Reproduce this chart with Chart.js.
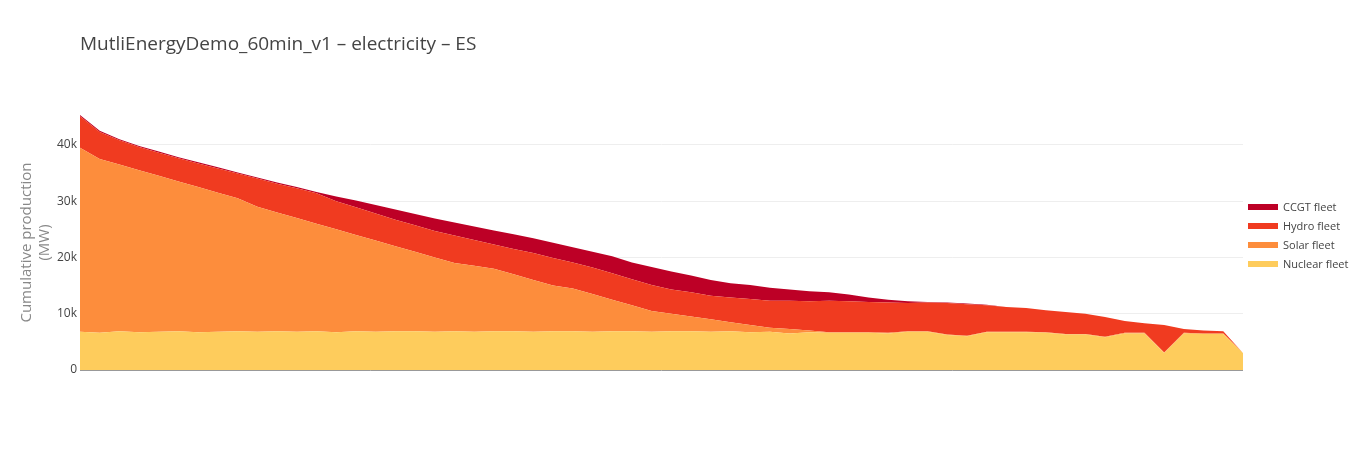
<!DOCTYPE html>
<html><head><meta charset="utf-8">
<script src="https://cdn.jsdelivr.net/npm/chart.js@4"></script>
<style>
body{margin:0;background:#fff;font-family:"Open Sans",sans-serif;}
#wrap{position:relative;width:1369px;height:450px;}
#title{position:absolute;left:80px;top:30px;font-size:19px;color:#444;}
#legend{position:absolute;left:1248px;top:197px;font-size:11px;color:#444;}
.li{height:19px;display:flex;align-items:center;}
.sw{width:30px;height:6px;margin-right:5px;}
</style></head><body>
<div id="wrap"><canvas id="c" width="1369" height="450"></canvas>
<div id="title">MutliEnergyDemo_60min_v1 – electricity – ES</div>
<div id="legend"></div></div>
<script>
// values in thousands of MW, sorted duration-curve samples
const nuclear=[6.8,6.6,6.9,6.7,6.8,6.9,6.7,6.8,6.9,6.8,6.9,6.8,6.9,6.7,6.9,6.8,6.9,6.9,6.8,6.9,6.8,6.9,6.9,6.8,6.9,6.9,6.8,6.9,6.9,6.8,
6.9,6.9,6.8,6.9,6.7,6.8,6.5,6.7,6.6,6.6,6.6,6.5,6.8,6.8,6.2,6.0,6.7,6.7,6.7,6.6,6.3,6.3,5.8,6.5,6.5,3.0,6.5,6.4,6.4,3.0];
const solar=[32.7,30.9,29.6,28.8,27.7,26.6,25.8,24.7,23.6,22.2,21.1,20.2,19.1,18.3,17.1,16.2,15.1,14.1,13.2,12.1,11.7,11.1,10.1,9.2,8.1,7.6,6.7,5.6,4.6,3.7,
3.1,2.6,2.2,1.6,1.3,0.7,0.8,0.3,0.1,0.1,0.1,0.1,0.1,0.1,0.1,0.1,0.1,0.1,0.1,0.1,0.1,0.1,0.1,0.1,0.1,0.1,0.1,0.1,0.1,0];
const hydro=[5.6,4.8,4.3,4.1,4.1,4.1,4.2,4.3,4.4,5.0,5.1,5.3,5.4,5.0,4.9,4.8,4.7,4.7,4.7,4.9,4.6,4.3,4.5,4.8,4.9,4.6,4.7,4.7,4.6,4.6,
4.3,4.3,4.2,4.4,4.6,4.8,5.0,5.2,5.6,5.5,5.4,5.4,5.0,5.1,5.6,5.6,4.7,4.4,4.2,3.9,3.9,3.6,3.5,2.1,1.7,4.9,0.7,0.5,0.4,0];
const ccgt=[0.2,0.2,0.2,0.2,0.2,0.2,0.2,0.2,0.2,0.2,0.2,0.2,0.2,0.8,1.2,1.5,1.8,2,2.2,2.3,2.4,2.5,2.6,2.6,2.7,2.7,2.8,3,3,3.2,
3.2,3,2.8,2.5,2.5,2.3,2.0,1.8,1.5,1.2,0.8,0.5,0.3,0.1,0.1,0.1,0.1,0,0,0,0,0,0,0,0,0,0,0,0,0];
const seriesNames=['Nuclear fleet','Solar fleet','Hydro fleet','CCGT fleet'];
const seriesColors=['#fecc5c','#fd8d3c','#f03b20','#bd0026'];
const yTicks=[0,10000,20000,30000,40000];
const all=[nuclear,solar,hydro,ccgt];
const datasets=all.map((arr,k)=>({label:seriesNames[k],data:arr.map((v,i)=>({x:i,y:v*1000})),
 backgroundColor:seriesColors[k],borderColor:seriesColors[k],borderWidth:0,pointRadius:0,tension:0,fill:k===0?'origin':'-1'}));
new Chart(document.getElementById('c'),{type:'line',data:{datasets},
options:{responsive:false,animation:false,events:[],
 layout:{padding:{left:18,right:126,top:115,bottom:80}},
 plugins:{legend:{display:false},tooltip:{enabled:false}},
 scales:{
  x:{type:'linear',min:0,max:nuclear.length-1,display:false},
  y:{stacked:true,min:0,max:45300,afterFit:s=>{s.width=62;},
   afterBuildTicks:s=>{s.ticks=yTicks.map(v=>({value:v}));},
   ticks:{color:'#444',font:{family:'Open Sans',size:12},padding:3,callback:v=>v===0?'0':(v/1000)+'k'},
   grid:{color:c=>c.tick&&c.tick.value===0?'#999':'#eee',drawTicks:false},border:{display:false},
   title:{display:true,text:['Cumulative production','(MW)'],color:'#888',font:{family:'Open Sans',size:15},padding:0}}
 }}});
const lg=document.getElementById('legend');
for(let k=3;k>=0;k--){lg.innerHTML+=`<div class="li"><div class="sw" style="background:${seriesColors[k]}"></div>${seriesNames[k]}</div>`;}
</script></body></html>
